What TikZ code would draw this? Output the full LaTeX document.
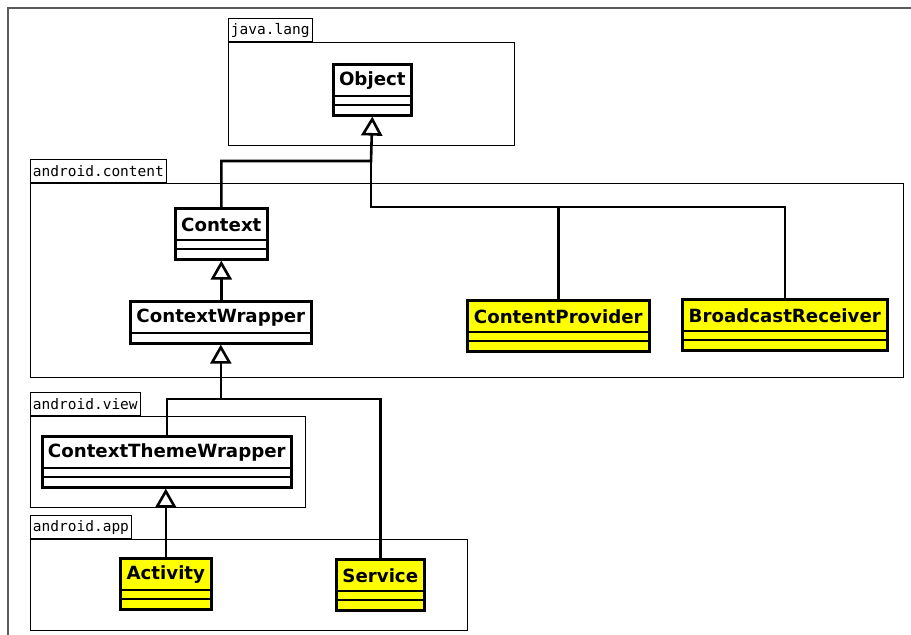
\documentclass[tikz,border=0pt]{standalone}
\usepackage{fontspec}
\usetikzlibrary{arrows.meta}
\newfontfamily\clsfont{DejaVu Sans}
\newfontfamily\pkgfont{DejaVu Sans Mono}
\definecolor{clsyellow}{RGB}{255,255,0}
\definecolor{framegray}{RGB}{90,90,90}

\tikzset{
  cls/.style={draw=black, line width=2.6pt, fill=white, inner sep=0pt, anchor=north west},
  clsname/.style={font=\clsfont\bfseries\fontsize{18.2}{21}\selectfont, inner sep=0pt},
  cmp/.style={line width=2.6pt},
  pkgbody/.style={draw=black, line width=0.9pt, inner sep=0pt, anchor=north west},
  pkgtab/.style={draw=black, line width=0.9pt, fill=white, anchor=south west,
    inner xsep=2.5pt, inner ysep=0pt, minimum height=23pt,
    font=\pkgfont\fontsize{14.5}{17}\selectfont},
  conn/.style={line width=2.6pt, line join=miter},
  inh/.style={conn, -{Triangle[fill=white, length=19pt, width=21pt]}},
}

% UML class box: name, top-left corner, width, fill, label, number of empty compartments
\newcommand\umlclass[6]{%
  \node[cls, fill=#4, minimum width=#3, minimum height={33pt+9pt*#6}] (#1) at #2 {};
  \node[clsname] (#1-name) at ([yshift=-17.5pt]#1.north) {#5};
  \foreach \k in {1,...,#6}
    \draw[cmp] ([yshift={-33pt-9pt*(\k-1)}]#1.north west) -- ([yshift={-33pt-9pt*(\k-1)}]#1.north east);
}

\begin{document}
\begin{tikzpicture}[x=1pt, y=-1pt]
  \useasboundingbox (0,0) rectangle (911,635);

  % outer frame
  \draw[framegray, line width=1.5pt] (8,650) -- (8,8) -- (925,8);

  % packages
  \node[pkgbody, minimum width=286pt, minimum height=103pt] (jl) at (228,42) {};
  \node[pkgtab] (jlT) at (jl.north west) {java.lang};
  \node[pkgbody, minimum width=873pt, minimum height=194pt] (ac) at (30,183) {};
  \node[pkgtab] (acT) at (ac.north west) {android.content};
  \node[pkgbody, minimum width=275pt, minimum height=91pt] (av) at (30,416) {};
  \node[pkgtab] (avT) at (av.north west) {android.view};
  \node[pkgbody, minimum width=437pt, minimum height=91pt] (aa) at (30,539) {};
  \node[pkgtab] (aaT) at (aa.north west) {android.app};

  % classes
  \umlclass{obj}{(332,63)}{78pt}{white}{Object}{2}
  \umlclass{ctx}{(174,207)}{92pt}{white}{Context}{2}
  \umlclass{cw}{(129,300)}{181pt}{white}{ContextWrapper}{1}
  \umlclass{cp}{(466,299)}{182pt}{clsyellow}{ContentProvider}{2}
  \umlclass{br}{(681,298)}{205pt}{clsyellow}{BroadcastReceiver}{2}
  \umlclass{ctw}{(41,435)}{249pt}{white}{ContextThemeWrapper}{2}
  \umlclass{act}{(119,557)}{91pt}{clsyellow}{Activity}{2}
  \umlclass{svc}{(335,558)}{88pt}{clsyellow}{Service}{2}

  % inheritance connectors
  \coordinate (j1) at (371,161);
  \coordinate (j2) at (371,207);
  \coordinate (j3) at (220,399);
  \draw[inh] (ctx.north) |- (j1) -- (obj.south);
  \draw[conn] (j1) -- (j2) -| (br.north);
  \draw[conn] (cp.north) -- (cp.north |- j2);
  \draw[inh] (ctx.south |- cw.north) -- (ctx.south);
  \draw[inh] (cw.south |- j3) -- (cw.south);
  \draw[conn] (ctw.north) |- (j3) -| (svc.north);
  \draw[inh] (act.north) -- (act.north |- ctw.south);
\end{tikzpicture}
\end{document}
